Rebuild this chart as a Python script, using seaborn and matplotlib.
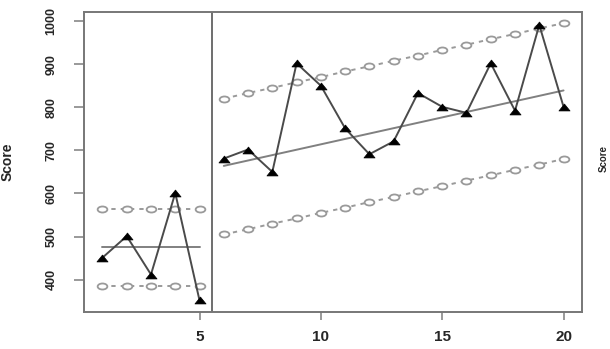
import matplotlib
matplotlib.use("Agg")
import matplotlib.pyplot as plt
import seaborn as sns
import pandas as pd
import numpy as np
from matplotlib.path import Path
from matplotlib.transforms import Affine2D

# ---- data ----
x_phase1 = [1, 2, 3, 4, 5]
score_phase1 = [451, 501, 412, 601, 352]
center_phase1 = [475, 475, 475, 475, 475]
upper_phase1 = [565, 565, 565, 565, 565]
lower_phase1 = [385, 385, 385, 385, 385]

x_phase2 = [6, 7, 8, 9, 10, 11, 12, 13, 14, 15, 16, 17, 18, 19, 20]
score_phase2 = [681, 702, 650, 902, 850, 751, 691, 721, 833, 801, 787, 902, 792, 991, 801]
trend_x = [6, 20]
trend_y = [664, 839]
upper_phase2 = [820, 833, 845, 858, 870, 883, 895, 908, 920, 933, 945, 958, 970, 983, 995]
lower_phase2 = [505, 517, 530, 542, 555, 567, 580, 592, 605, 617, 630, 642, 655, 667, 680]

phase_break = 5.5
x_ticks = [5, 10, 15, 20]
y_ticks = [400, 500, 600, 700, 800, 900, 1000]
y_label = "Score"

# ---- styling ----
sns.set_style("white")
plt.rcParams["font.family"] = ["Liberation Sans", "DejaVu Sans"]

fig = plt.figure(figsize=(6.10, 3.49), dpi=100)
ax = fig.add_axes([84 / 610, 1 - 312 / 349, 498 / 610, 300 / 349])

tri = Path([(-1, -0.62), (1, -0.62), (0, 0.62), (-1, -0.62)],
           [Path.MOVETO, Path.LINETO, Path.LINETO, Path.CLOSEPOLY])
ell = Path.unit_circle().transformed(Affine2D().scale(1, 0.62))

limit_col = "#9a9a9a"
data_col = "#4a4a4a"
center_col = "#808080"

def limit_line(xs, ys):
    df = pd.DataFrame({"x": xs, "y": ys})
    sns.lineplot(data=df, x="x", y="y", ax=ax, color=limit_col, lw=1.4,
                 linestyle=(0, (2.2, 2.6)), marker=ell, markersize=7,
                 markerfacecolor="white", markeredgecolor=limit_col,
                 markeredgewidth=1.3, estimator=None, sort=False)

limit_line(x_phase1, upper_phase1)
limit_line(x_phase1, lower_phase1)
limit_line(x_phase2, upper_phase2)
limit_line(x_phase2, lower_phase2)

sns.lineplot(x=x_phase1, y=center_phase1, ax=ax, color=center_col, lw=1.4,
             estimator=None, sort=False)
sns.lineplot(x=trend_x, y=trend_y, ax=ax, color=center_col, lw=1.4,
             estimator=None, sort=False)

for xs, ys in [(x_phase1, score_phase1), (x_phase2, score_phase2)]:
    df = pd.DataFrame({"x": xs, "y": ys})
    sns.lineplot(data=df, x="x", y="y", ax=ax, color=data_col, lw=1.4,
                 marker=tri, markersize=8, markerfacecolor="black",
                 markeredgecolor="black", markeredgewidth=0.5,
                 estimator=None, sort=False)

ax.axvline(phase_break, color="#555555", lw=1.2)

ax.set_xlim(0.24, 20.76)
ax.set_ylim(325, 1021)
ax.set_xticks(x_ticks)
ax.set_yticks(y_ticks)
ax.set_xticklabels([str(v) for v in x_ticks], fontsize=11, fontweight="bold")
ax.set_yticklabels([str(v) for v in y_ticks], fontsize=9, fontweight="bold",
                   rotation=90, va="center")
ax.tick_params(axis="x", length=6, width=1.2, color="#888888", pad=7, direction="out", bottom=True)
ax.tick_params(axis="y", length=7, width=1.2, color="#888888", pad=12, direction="out", left=True)
ax.set_xlabel("")
ax.set_ylabel("")
for s in ax.spines.values():
    s.set_color("#777777")
    s.set_linewidth(1.4)

fig.text(8 / 610, 1 - 162 / 349, y_label, rotation=90, fontsize=10,
         fontweight="bold", ha="center", va="center")
fig.text(604 / 610, 1 - 158 / 349, y_label, rotation=90, fontsize=7,
         fontweight="bold", ha="center", va="center")

fig.savefig("out.png", dpi=100)
